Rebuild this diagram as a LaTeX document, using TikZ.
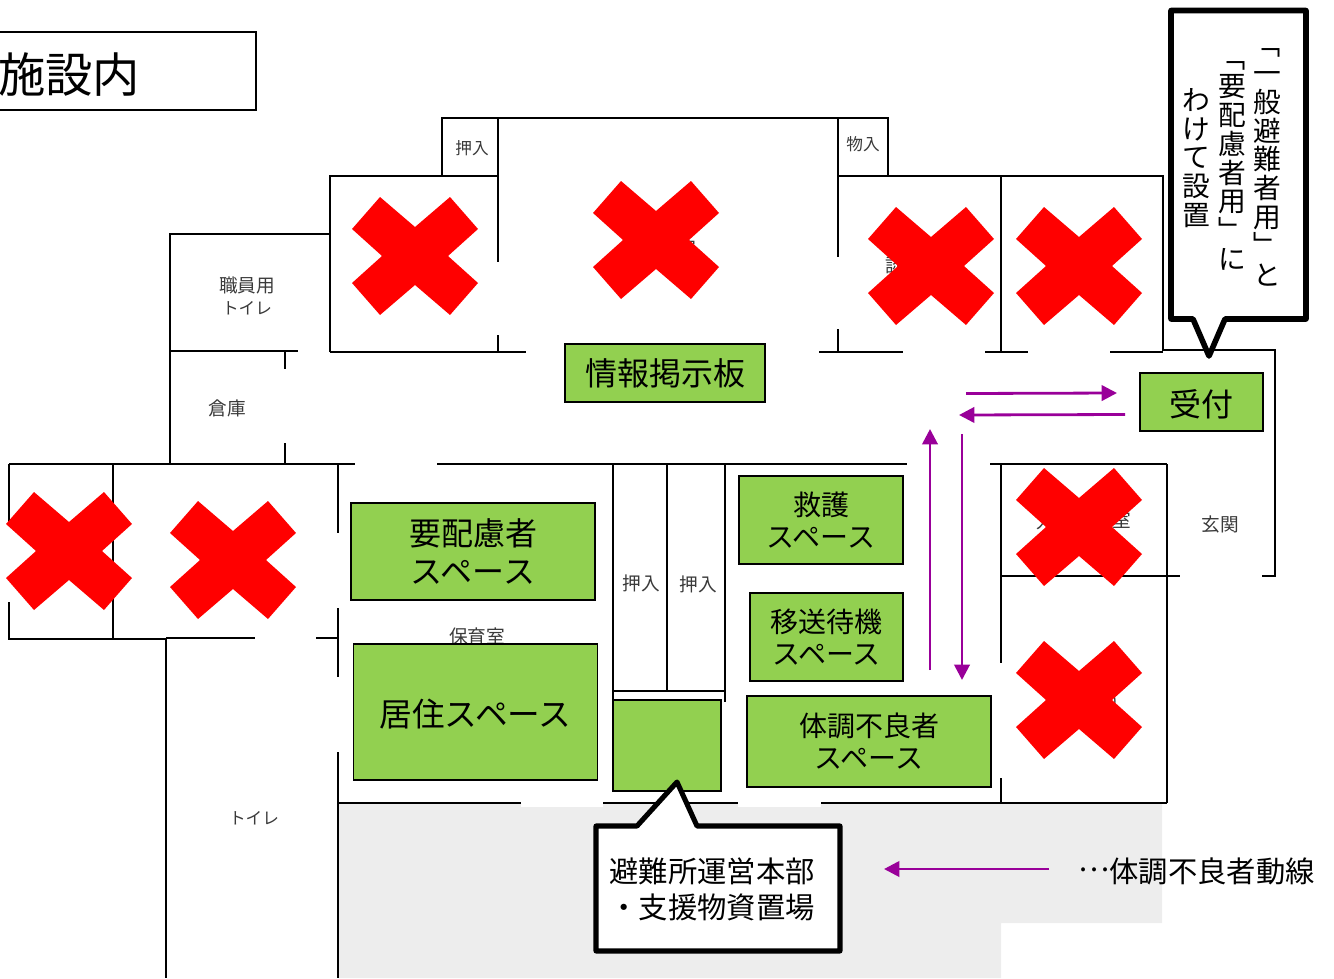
\documentclass[tikz,border=0pt]{standalone}
\usepackage{fontspec}
\usepackage{graphicx}
\setmainfont{Noto Sans CJK JP}
\usetikzlibrary{arrows.meta}
\definecolor{zone}{HTML}{92D050}
\definecolor{route}{HTML}{990099}
\definecolor{yard}{HTML}{EDEDED}
\definecolor{labelgray}{HTML}{3A3A3A}
\newcommand{\jsize}[1]{\fontsize{#1}{#1}\selectfont}
\newcommand{\vrot}[1]{\rotatebox[origin=c]{-90}{\raisebox{0pt}[.88em][.12em]{#1}}}
\newcommand{\dnshift}[2]{\raisebox{-#1}[\height][\depth]{#2}}
\tikzset{
  x=0.75pt,y=-0.75pt,
  wall/.style={draw=black,line width=1.5pt,line cap=butt},
  zonebox/.style={draw=black,line width=1pt,fill=zone,inner sep=0pt,align=center,text=black},
  roomlabel/.style={text=labelgray,font=\jsize{14},align=center,inner sep=0pt},
  smalllabel/.style={roomlabel,font=\jsize{12.5}},
  routearrow/.style={draw=route,line width=2.1pt,-{Triangle[length=11.5pt,width=11.5pt]}},
  callout/.style={draw=black,line width=4.2pt,fill=white,line join=round},
  crossmark/.style={fill=red,draw=none},
  vcol/.style={inner sep=0pt,align=center,text=black,font={\fontsize{20.8}{21.6}\selectfont\lineskiplimit=-100pt}}
}
\newcommand{\redcross}[2]{%
  \fill[crossmark,shift={(#1,#2)}] (-35,-59)--(0,-29)--(35,-59)--(63,-27)--(33,0)--(63,27)--(35,59)--(0,29)--(-35,59)--(-63,27)--(-33,0)--(-63,-27)--cycle;}
\begin{document}
\begin{tikzpicture}
\useasboundingbox (0,0) rectangle (1334,978);
% yard
\fill[yard] (338,804)--(1162,804)--(1162,923)--(1001,923)--(1001,978)--(338,978)--cycle;
\fill[white] (521,800) rectangle (603,807);
\fill[white] (738,800) rectangle (821,807);
% title
\draw[wall,line width=1.2pt] (-3,32) rectangle (256,110);
\node[inner sep=0pt,font=\jsize{35.5}] (title) at (69,75) {施設内};
% upper wing
\draw[wall] (442,176)--(442,118)--(888,118)--(888,176);
\draw[wall] (498,118)--(498,262) (498,335)--(498,352);
\draw[wall] (838,118)--(838,257) (838,329)--(838,352);
\draw[wall] (330,352)--(330,176)--(498,176);
\draw[wall] (838,176)--(1163,176)--(1163,351);
\draw[wall] (1001,176)--(1001,352);
\draw[wall] (330,352)--(526,352) (819,352)--(903,352) (985,352)--(1028,352) (1110,352)--(1163,352);
\draw[wall] (1163,350)--(1274.5,350)--(1274.5,575.5)--(1262,575.5);
% left wing
\draw[wall] (330,234)--(170,234)--(170,464);
\draw[wall] (170,351)--(298,351);
\draw[wall] (285,351)--(285,369) (285,443)--(285,464);
\draw[wall] (9,464)--(355,464) (437,464)--(907,464) (990,464)--(1167,464);
\draw[wall] (338,464)--(338,533) (338,608)--(338,677) (338,752)--(338,978);
\draw[wall] (316,638)--(338,638);
\draw[wall] (9,522)--(9,464);
\draw[wall] (9,602)--(9,639)--(166,639);
\draw[wall] (166,638)--(255,638);
\draw[wall] (113,464)--(113,639);
\draw[wall] (166,638)--(166,978);
% bottom wall
\draw[wall] (338,803)--(521,803) (603,803)--(738,803) (821,803)--(1166.5,803);
% closets
\draw[wall] (612.5,464)--(612.5,702) (667,464)--(667,691) (725,464)--(725,702);
\draw[wall] (612,691)--(725,691);
% right rooms
\draw[wall] (1001,464)--(1001,663) (1001,778)--(1001,803);
\draw[wall] (1166.5,464)--(1166.5,803);
\draw[wall] (1001,575.5)--(1180,575.5);
% labels
\node[smalllabel] (l1) at (472,148) {押入};
\node[smalllabel] (l2) at (863,144) {物入};
\node[roomlabel] (l3a) at (247,285) {職員用};
\node[smalllabel] (l3b) at (247,308) {トイレ};
\node[roomlabel] (l4) at (227,408) {倉庫};
\node[roomlabel] (l5) at (641,583) {押入};
\node[roomlabel] (l6) at (698,584) {押入};
\node[roomlabel] (l7) at (1220,524) {玄関};
\node[roomlabel] (l8) at (477,636) {保育室};
\node[smalllabel] (l9) at (254,818) {トイレ};
\node[roomlabel] (h1) at (913,265) {談話室};
\node[roomlabel] (h2) at (1046,522) {人};
\node[roomlabel] (h3) at (1122,520) {室};
\node[roomlabel,anchor=east] (h4) at (1118,702) {)};
\node[roomlabel] (h5) at (687,248) {室};
% crosses
\redcross{656}{240}
\redcross{415}{256}
\redcross{931}{266}
\redcross{1079}{266}
\redcross{1079}{527}
\redcross{1079}{700}
\redcross{69}{551}
\redcross{233}{560}
% green zones
\node[zonebox,minimum width=150pt,minimum height=43.5pt,font=\jsize{24}] (info) at (665,373) {情報掲示板};
\node[zonebox,minimum width=92.25pt,minimum height=43.5pt,font=\jsize{24}] (desk) at (1201.5,402) {\dnshift{1.5pt}{受付}};
\node[zonebox,minimum width=183pt,minimum height=72.75pt,font=\jsize{24}] (care) at (473,551.5) {要配慮者\\[4pt]スペース};
\node[zonebox,minimum width=183pt,minimum height=102pt,font=\jsize{24.5}] (live) at (475.5,712) {\dnshift{1.5pt}{居住スペース}};
\node[zonebox,minimum width=81pt,minimum height=68.25pt] (hq) at (667,745.5) {};
\node[zonebox,minimum width=123pt,minimum height=66pt,font=\jsize{21}] (aid) at (821,520) {救護\\[3pt]スペース};
\node[zonebox,minimum width=114.75pt,minimum height=66pt,font=\jsize{21}] (wait) at (826.5,637) {移送待機\\[3pt]スペース};
\node[zonebox,minimum width=183pt,minimum height=68.25pt,font=\jsize{21}] (sick) at (869,741.5) {体調不良者\\[3pt]スペース};
% arrows
\coordinate (a1s) at (966,393.5); \coordinate (a1e) at (1117,393);
\coordinate (a2s) at (1125,414.5); \coordinate (a2e) at (959,415);
\coordinate (a3s) at (930,670); \coordinate (a3e) at (930,429);
\coordinate (a4s) at (962,434); \coordinate (a4e) at (962,680);
\coordinate (a5s) at (1049,869); \coordinate (a5e) at (884,869);
\draw[routearrow] (a1s)--(a1e);
\draw[routearrow] (a2s)--(a2e);
\draw[routearrow] (a3s)--(a3e);
\draw[routearrow] (a4s)--(a4e);
\draw[routearrow] (a5s)--(a5e);
% callouts
\draw[callout] (1171,10.5)--(1306,10.5)--(1306,319)--(1225,319)--(1209,356)--(1193,319)--(1171,319)--cycle;
\node[vcol] (c1) at (1267,158) {\vrot{「}\\一\\般\\避\\難\\者\\用\\\vrot{」}\\と};
\node[vcol] (c2) at (1232,157) {\vrot{「}\\要\\配\\慮\\者\\用\\\vrot{」}\\に};
\node[vcol] (c3) at (1196,158) {わ\\け\\て\\設\\置};
\draw[callout,line width=3.8pt] (596,826)--(637,826)--(677,782)--(697,826)--(840,826)--(840,951)--(596,951)--cycle;
\node[inner sep=0pt,align=center,font=\jsize{22}] (hqt) at (712,889) {避難所運営本部\\[5pt]・支援物資置場};
\node[inner sep=0pt,anchor=west,font=\jsize{22}] (leg) at (1078,871) {\raisebox{8pt}[\height][\depth]{…}体調不良者動線};
\end{tikzpicture}
\end{document}
